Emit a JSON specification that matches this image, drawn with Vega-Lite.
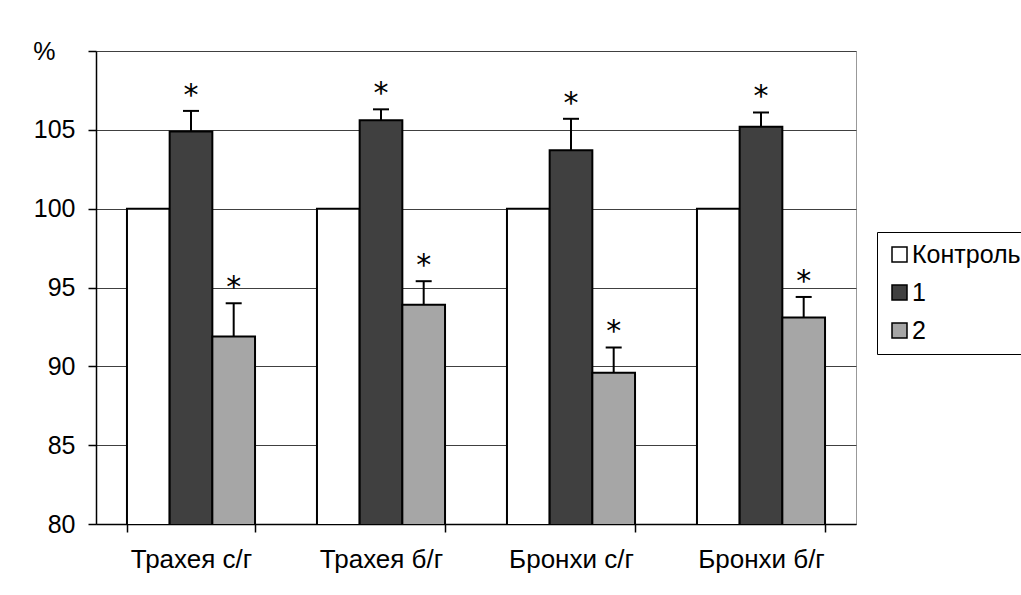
{
  "$schema": "https://vega.github.io/schema/vega-lite/v6.json",
  "autosize": "none",
  "width": 760,
  "height": 473,
  "padding": {"left": 96, "top": 51, "right": 165, "bottom": 71},
  "background": "white",
  "config": {
    "font": "Liberation Sans",
    "view": {"stroke": "#999999", "strokeWidth": 1},
    "axis": {"labelFont": "Liberation Sans", "labelColor": "black", "domainColor": "black", "tickColor": "black", "tickSize": 8, "domainWidth": 1.5, "tickWidth": 1.5}
  },
  "data": {
    "values": [
      {"cat": "Трахея с/г", "group": "Контроль", "value": 100, "hi": null, "star": false},
      {"cat": "Трахея с/г", "group": "1", "value": 104.9, "hi": 106.2, "star": true},
      {"cat": "Трахея с/г", "group": "2", "value": 91.9, "hi": 94.0, "star": true},
      {"cat": "Трахея б/г", "group": "Контроль", "value": 100, "hi": null, "star": false},
      {"cat": "Трахея б/г", "group": "1", "value": 105.6, "hi": 106.3, "star": true},
      {"cat": "Трахея б/г", "group": "2", "value": 93.9, "hi": 95.4, "star": true},
      {"cat": "Бронхи с/г", "group": "Контроль", "value": 100, "hi": null, "star": false},
      {"cat": "Бронхи с/г", "group": "1", "value": 103.7, "hi": 105.7, "star": true},
      {"cat": "Бронхи с/г", "group": "2", "value": 89.6, "hi": 91.2, "star": true},
      {"cat": "Бронхи б/г", "group": "Контроль", "value": 100, "hi": null, "star": false},
      {"cat": "Бронхи б/г", "group": "1", "value": 105.2, "hi": 106.1, "star": true},
      {"cat": "Бронхи б/г", "group": "2", "value": 93.1, "hi": 94.4, "star": true}
    ]
  },
  "encoding": {
    "x": {
      "field": "cat", "type": "nominal",
      "sort": ["Трахея с/г", "Трахея б/г", "Бронхи с/г", "Бронхи б/г"],
      "scale": {"paddingInner": 0.326, "paddingOuter": 0.163},
      "axis": {"title": null, "labelAngle": 0, "tickBand": "extent", "labelPadding": 14, "labelFontSize": 26, "grid": false}
    },
    "xOffset": {
      "field": "group", "type": "nominal",
      "sort": ["Контроль", "1", "2"],
      "scale": {"paddingInner": 0, "paddingOuter": 0}
    }
  },
  "layer": [
    {
      "mark": {"type": "bar", "stroke": "black", "strokeWidth": 2, "clip": true},
      "encoding": {
        "y": {
          "field": "value", "type": "quantitative",
          "scale": {"domain": [80, 110], "nice": false, "zero": false},
          "axis": {
            "title": null,
            "values": [80, 85, 90, 95, 100, 105, 110],
            "labelFontSize": 25,
            "labelExpr": "datum.value == 110 ? '%' : datum.label",
            "labelPadding": {"condition": {"test": "datum.value == 110", "value": 33}, "value": 13},
            "grid": true, "gridColor": "#404040", "gridWidth": 1
          }
        },
        "fill": {
          "field": "group", "type": "nominal",
          "sort": ["Контроль", "1", "2"],
          "scale": {"domain": ["Контроль", "1", "2"], "range": ["#ffffff", "#404040", "#a6a6a6"]},
          "legend": {
            "title": null, "orient": "none", "legendX": 781, "legendY": 181,
            "strokeColor": "black", "padding": 10, "fillColor": "white",
            "symbolType": "square", "symbolSize": 225, "symbolStrokeColor": "black", "symbolStrokeWidth": 1.5,
            "labelFontSize": 25, "labelColor": "black", "labelFont": "Liberation Sans",
            "rowPadding": 12, "labelOffset": 0
          }
        }
      }
    },
    {
      "transform": [{"filter": "datum.hi != null"}],
      "mark": {"type": "rule", "color": "black", "strokeWidth": 2},
      "encoding": {
        "y": {"field": "value", "type": "quantitative"},
        "y2": {"field": "hi"}
      }
    },
    {
      "transform": [{"filter": "datum.hi != null"}],
      "mark": {"type": "tick", "color": "black", "thickness": 2, "size": 16, "opacity": 1},
      "encoding": {
        "y": {"field": "hi", "type": "quantitative"}
      }
    },
    {
      "transform": [{"filter": "datum.star"}],
      "mark": {"type": "text", "text": "*", "fontSize": 30, "font": "DejaVu Sans", "color": "black", "baseline": "middle", "dy": -15},
      "encoding": {
        "y": {"field": "hi", "type": "quantitative"}
      }
    }
  ]
}
